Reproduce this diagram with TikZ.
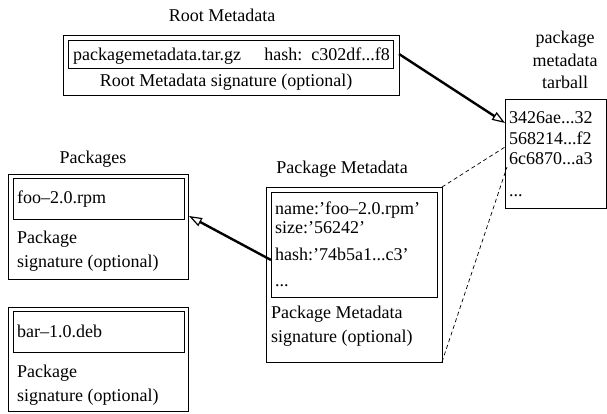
\documentclass[tikz,border=0pt]{standalone}
\usepackage{fontspec}
\setmainfont{Liberation Serif}
\usetikzlibrary{arrows.meta}

\tikzset{
  box/.style={draw, line width=0.9pt, inner sep=0pt, outer sep=0pt, anchor=north west},
  txt/.style={inner sep=0pt, anchor=base west, font=\fontsize{18}{22.5}\selectfont},
  title/.style={txt, anchor=base},
  link/.style={line width=2.4pt, -{Triangle[open, length=13pt, width=9pt, line width=1.2pt]}},
  hook/.style={line width=0.7pt, dash pattern=on 4pt off 3pt},
}

\begin{document}
\begin{tikzpicture}[x=1pt,y=1pt,yscale=-1]
    \useasboundingbox (0,0) rectangle (607,413);

    % Root metadata
    \node[title] (roottitle) at (222,21) {Root Metadata};
    \node[box, minimum width=336pt, minimum height=60pt] (root) at (63,35) {};
    \node[box, minimum width=325pt, minimum height=28pt] (rootin) at (68,40) {};
    \node[txt] (rootfile) at (73,60) {packagemetadata.tar.gz};
    \node[txt, anchor=base east] (roothash) at (390,60) {hash:\ \ c302df...f8};
    \node[title] (rootsig) at (226,86) {Root Metadata signature (optional)};

    % package metadata tarball
    \node[txt, anchor=north, align=center] (tartitle) at (565,31) {package\\metadata\\tarball};
    \node[box, minimum width=101pt, minimum height=109pt] (tar) at (505,99) {};
    \node[txt] (h1) at (509,123) {3426ae...32};
    \node[txt] (h2) at (509,144) {568214...f2};
    \node[txt] (h3) at (509,164) {6c6870...a3};
    \node[txt] (h4) at (509,196) {...};
    \coordinate (tartop) at (505,147);
    \coordinate (tarlow) at (507,167);

    % Packages
    \node[title] (pkgtitle) at (93,163) {Packages};
    \node[box, minimum width=180pt, minimum height=105pt] (foo) at (8,174) {};
    \node[box, minimum width=171pt, minimum height=41pt] (fooin) at (13,178) {};
    \node[txt] (fooname) at (17,203) {foo--2.0.rpm};
    \node[txt] (foosig1) at (17,243) {Package};
    \node[txt] (foosig2) at (17,267) {signature (optional)};
    \coordinate (foohook) at (189,216);

    \node[box, minimum width=180pt, minimum height=104pt] (bar) at (8,307) {};
    \node[box, minimum width=171pt, minimum height=41pt] (barin) at (13,311) {};
    \node[txt] (barname) at (17,337) {bar--1.0.deb};
    \node[txt] (barsig1) at (17,377) {Package};
    \node[txt] (barsig2) at (17,401) {signature (optional)};

    % Package metadata
    \node[title] (pmtitle) at (342,173) {Package Metadata};
    \node[box, minimum width=176pt, minimum height=175pt] (pm) at (266,187) {};
    \node[box, minimum width=166pt, minimum height=105pt] (pmin) at (271,192) {};
    \node[txt] (pmname) at (275,214) {name:'foo--2.0.rpm'};
    \node[txt] (pmsize) at (275,233) {size:'56242'};
    \node[txt] (pmhash) at (275,260) {hash:'74b5a1...c3'};
    \node[txt] (pmdots) at (275,286) {...};
    \node[txt] (pmsig1) at (271,318) {Package Metadata};
    \node[txt] (pmsig2) at (271,342) {signature (optional)};

    % connectors
    \draw[link] (root.east |- rootin.center) -- (tar.west |- h1.base);
    \draw[link] (pmin.west |- pmhash.base) -- (foohook);
    \draw[hook] (pm.north east) -- (tartop);
    \draw[hook] (pm.south east) -- (tarlow);
\end{tikzpicture}
\end{document}
